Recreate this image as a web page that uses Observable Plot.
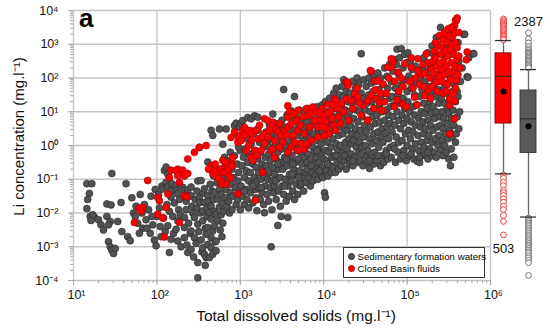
<!DOCTYPE html>
<html><head><meta charset="utf-8">
<script src="https://cdn.jsdelivr.net/npm/d3@7"></script>
<script src="https://cdn.jsdelivr.net/npm/@observablehq/plot@0.6"></script>
<style>
html,body{margin:0;padding:0;background:#fff;}
#chart{position:relative;width:550px;height:335px;overflow:hidden;font-family:"Liberation Sans",Arial,sans-serif;background:#fff;}
#chart svg{position:absolute;top:0;}
#panel{position:absolute;left:79px;top:5px;font-size:26px;font-weight:bold;line-height:1;color:#000;}
#legend{position:absolute;left:343px;top:247px;width:140px;height:29px;border:1px solid #333;background:#fff;font-size:9.7px;color:#000;}
#legend .it{position:absolute;left:4px;display:flex;align-items:center;white-space:nowrap;}
#legend .sw{display:inline-block;width:5px;height:5px;border-radius:50%;margin-right:2.5px;}
</style></head><body><div id="chart"></div>
<script>
// axis ticks and labels
const xTicks = [1e1, 1e2, 1e3, 1e4, 1e5, 1e6];
const xTickLabels = ["10¹", "10²", "10³", "10⁴", "10⁵", "10⁶"];
const yTicks = [1e-4, 1e-3, 1e-2, 1e-1, 1e0, 1e1, 1e2, 1e3, 1e4];
const yTickLabels = ["10⁻⁴", "10⁻³", "10⁻²", "10⁻¹", "10⁰", "10¹", "10²", "10³", "10⁴"];
const xTitle = "Total dissolved solids (mg.l⁻¹)";
const yTitle = "Li concentration (mg.l⁻¹)";
const seriesNames = ["Sedimentary formation waters", "Closed Basin fluids"];

// Sedimentary formation waters: [log10 TDS, log10 Li]
const sedimentary = [
[1.16,-1.13],[1.22,-1.13],[1.19,-1.42],[1.17,-1.6],[1.16,-1.87],[1.2,-2.1],[1.25,-2.12],[1.3,-2.2],[1.33,-2.35],[1.36,-2.5],[1.21,-2.22],[1.23,-2.05],[1.4,-1.73],[1.45,-1.76],[1.4,-2.1],[1.44,-2.25],[1.42,-2.35],[1.46,-0.83],[1.42,-2.85],[1.44,-3.0],[1.46,-3.1],[1.48,-3.2],[1.5,-3.05],[1.53,-2.25],[1.57,-1.69],[1.58,-2.55],[1.63,-1.13],[1.65,-2.7],[1.68,-2.82],[1.7,-1.55],[1.72,-2.0],[1.74,-2.1],[1.75,-1.8],[1.77,-2.3],[1.8,-1.45],[1.82,-2.0],[1.83,-2.45],[1.85,-1.75],[1.87,-2.2],[1.9,-1.9],[1.92,-2.6],[1.93,-1.5],[1.95,-2.35],[1.97,-2.8],[1.98,-1.3],[1.99,-2.97],[2.0,-2.1],[1.79,-2.6],[1.88,-2.45],[1.94,-2.1],
[2.02,-1.45],[2.03,-1.85],[2.04,-2.4],[2.05,-2.7],[2.06,-1.2],[2.07,-1.29],[2.09,-0.74],[2.11,-0.64],[2.11,-1.09],[2.08,-2.15],[2.1,-2.55],[2.12,-1.75],[2.13,-0.85],[2.13,-1.23],[2.13,-2.38],[2.15,-3.17],[2.15,-1.95],[2.17,-1.34],[2.17,-1.53],[2.17,-2.78],[2.18,-1.13],[2.19,-2.1],[2.2,-2.6],[2.21,-1.7],[2.23,-1.19],[2.23,-1.33],[2.23,-2.48],[2.25,-1.43],[2.25,-2.23],[2.25,-2.83],[2.26,-1.9],[2.28,-2.05],[2.29,-3.0],[2.27,-1.6],
[2.31,-1.24],[2.33,-1.33],[2.33,-2.13],[2.33,-2.43],[2.33,-2.73],[2.35,-1.65],[2.35,-1.9],[2.36,-2.95],[2.37,-1.32],[2.37,-3.17],[2.38,-2.3],[2.39,-1.5],[2.4,-2.6],[2.41,-1.23],[2.41,-1.49],[2.41,-2.53],[2.41,-3.08],[2.42,-1.8],[2.43,-2.0],[2.44,-3.3],[2.45,-2.13],[2.45,-2.73],[2.46,-1.6],[2.47,-2.9],[2.48,-1.35],[2.49,-1.05],[2.49,-2.33],[2.49,-3.47],[2.49,-3.92],[2.48,-1.85],[2.5,-2.55],
[2.51,-0.06],[2.51,-1.54],[2.51,-1.69],[2.52,-2.0],[2.53,-1.04],[2.53,-2.8],[2.54,-3.15],[2.55,-1.94],[2.55,-2.23],[2.55,-3.03],[2.56,-1.4],[2.57,-1.28],[2.57,-1.69],[2.57,-3.22],[2.58,-2.45],[2.59,-2.63],[2.59,-3.32],[2.6,-1.85],[2.6,-2.1],[2.58,-3.55],
[2.61,-0.49],[2.61,-1.49],[2.61,-2.43],[2.61,-2.93],[2.62,-1.65],[2.63,-1.99],[2.63,-3.32],[2.64,-1.15],[2.65,0.45],[2.65,-0.64],[2.65,-1.79],[2.65,-2.18],[2.65,-2.73],[2.65,-3.03],[2.66,-1.35],[2.67,0.3],[2.67,-2.53],[2.67,-3.22],[2.68,-1.6],[2.69,-1.39],[2.69,-2.38],[2.69,-1.95],[2.7,-2.85],[2.68,-0.9],
[2.71,-2.04],[2.71,-2.83],[2.71,-3.12],[2.72,-1.1],[2.73,-1.59],[2.73,-2.23],[2.74,-0.75],[2.75,0.49],[2.75,-1.82],[2.75,-1.3],[2.76,-2.5],[2.77,-1.45],[2.77,-2.05],[2.78,-0.95],[2.79,0.04],[2.79,-1.7],[2.79,-2.3],[2.8,-1.15],[2.8,-1.95],[2.78,-2.7],
[2.81,-0.35],[2.82,-1.55],[2.82,-0.6],[2.83,0.49],[2.83,-1.3],[2.84,-1.8],[2.85,-0.85],[2.85,-1.05],[2.86,-1.65],[2.87,-0.45],[2.87,-2.0],[2.88,-1.4],[2.88,-0.2],[2.89,-1.15],[2.9,-1.9],[2.9,-0.7],
[2.91,-1.5],[2.92,-0.95],[2.93,0.59],[2.93,-0.3],[2.94,-1.25],[2.95,0.66],[2.95,-1.75],[2.96,-0.55],[2.97,-1.05],[2.97,-1.6],[2.98,-0.8],[2.99,0.54],[2.99,-1.35],[3.0,-0.15],[3.0,-1.9],[2.98,-0.05],
[3.01,0.66],[3.01,-1.2],[3.02,-0.6],[3.03,0.74],[3.03,-1.5],[3.04,-0.35],[3.05,-0.95],[3.05,-1.75],[3.06,-0.1],[3.07,-1.3],[3.07,-0.75],[3.08,0.2],[3.08,-1.6],[3.09,0.83],[3.09,-0.5],[3.1,-1.05],[3.1,-1.85],
[3.11,-0.25],[3.12,-1.4],[3.12,-0.8],[3.13,0.79],[3.13,0.05],[3.14,-1.15],[3.15,-0.55],[3.15,-1.7],[3.16,0.35],[3.17,0.88],[3.17,-0.95],[3.18,-1.3],[3.18,-0.15],[3.19,-1.55],[3.19,-0.65],[3.2,-1.93],[3.2,-1.05],
[3.21,0.84],[3.21,0.45],[3.21,-0.4],[3.22,-1.25],[3.22,-0.8],[3.23,0.1],[3.24,-1.6],[3.24,-0.2],[3.25,-1.0],[3.26,-0.55],[3.26,-1.4],[3.27,0.25],[3.28,-0.05],[3.28,-1.75],[3.29,-1.99],[3.29,-0.9],[3.3,-1.2],[3.3,-0.35],[3.27,-0.7],
[3.31,0.4],[3.31,-0.6],[3.32,-1.45],[3.33,0.1],[3.33,-1.0],[3.34,-0.25],[3.34,-1.65],[3.35,0.6],[3.35,-0.8],[3.36,-1.25],[3.36,-0.45],[3.37,-3.0],[3.37,0.2],[3.38,-1.05],[3.38,-1.9],[3.39,0.93],[3.39,-0.1],[3.39,-0.65],[3.4,-1.4],[3.4,0.35],
[3.41,-0.85],[3.41,-1.2],[3.42,0.0],[3.42,0.65],[3.43,-0.4],[3.43,-1.6],[3.44,0.3],[3.44,-1.0],[3.45,-2.37],[3.45,-0.2],[3.46,-0.7],[3.46,-1.35],[3.47,0.5],[3.47,0.1],[3.48,-0.95],[3.48,-1.8],[3.49,-0.5],[3.49,-2.1],[3.5,0.75],[3.5,-0.1],[3.5,-1.2],
[3.51,-0.7],[3.52,1.66],[3.52,0.2],[3.52,-1.45],[3.53,-0.35],[3.53,0.55],[3.54,-1.0],[3.55,0.0],[3.55,-1.65],[3.56,-0.6],[3.56,0.9],[3.57,-2.13],[3.57,-1.2],[3.58,0.35],[3.58,-0.2],[3.59,-0.85],[3.59,-1.5],[3.6,0.6],[3.6,-0.45],[3.6,0.1],
[3.61,1.03],[3.61,-1.05],[3.62,-0.3],[3.62,0.25],[3.63,-1.35],[3.63,0.75],[3.64,-0.7],[3.64,0.0],[3.65,1.45],[3.65,-1.6],[3.65,0.45],[3.66,-0.5],[3.67,-1.15],[3.67,0.85],[3.68,-0.15],[3.68,-0.9],[3.69,0.3],[3.69,-1.45],[3.7,0.6],[3.7,-0.4],[3.7,0.05],
[3.71,-0.75],[3.71,1.05],[3.72,-1.2],[3.72,0.4],[3.73,-0.2],[3.73,-1.13],[3.74,0.75],[3.74,-0.55],[3.75,0.15],[3.75,-0.95],[3.76,-1.35],[3.76,0.55],[3.77,-0.35],[3.77,0.95],[3.78,-0.05],[3.78,-0.8],[3.79,0.3],[3.79,-1.1],[3.8,0.7],[3.8,-0.5],
[3.81,-0.25],[3.81,1.1],[3.82,0.1],[3.82,-0.95],[3.83,0.45],[3.83,-0.65],[3.84,-1.2],[3.84,0.85],[3.85,-0.4],[3.85,0.25],[3.86,-0.8],[3.86,0.6],[3.87,-0.05],[3.87,-1.05],[3.88,1.0],[3.88,0.35],[3.89,-0.55],[3.89,-0.2],[3.9,0.75],[3.9,-0.9],
[3.91,0.15],[3.91,-0.35],[3.92,1.15],[3.92,-0.7],[3.93,0.5],[3.93,-1.0],[3.94,-0.1],[3.94,0.9],[3.95,-0.5],[3.95,0.3],[3.96,-0.85],[3.96,0.65],[3.97,0.05],[3.97,-0.25],[3.98,1.2],[3.98,-0.65],[3.99,0.4],[3.99,-0.95],[4.0,0.8],[4.0,-0.4],
[4.01,-1.4],[4.02,-1.53],[4.01,0.2],[4.02,1.3],[4.02,-0.15],[4.03,0.55],[4.03,-0.75],[4.04,1.0],[4.04,-0.45],[4.05,0.1],[4.05,-0.9],[4.06,0.75],[4.06,-0.2],[4.07,1.4],[4.07,0.35],[4.08,-0.6],[4.08,0.95],[4.09,-0.05],[4.09,-0.8],[4.1,0.6],[4.1,1.2],[4.1,-0.35],
[4.11,0.2],[4.11,-0.65],[4.12,1.55],[4.12,0.85],[4.13,-0.3],[4.13,0.45],[4.14,1.1],[4.14,-0.8],[4.15,0.05],[4.15,1.7],[4.16,-0.5],[4.16,0.7],[4.17,1.35],[4.17,-0.15],[4.18,0.3],[4.18,-0.7],[4.19,0.95],[4.19,1.5],[4.2,-0.4],[4.2,0.55],[4.2,0.0],
[4.21,1.2],[4.21,-0.6],[4.22,0.8],[4.22,1.75],[4.23,-0.2],[4.23,0.35],[4.24,1.95],[4.24,1.45],[4.25,-0.45],[4.25,0.6],[4.26,0.1],[4.26,1.05],[4.27,-0.7],[4.27,1.6],[4.28,0.45],[4.28,-0.1],[4.29,0.85],[4.29,1.3],[4.3,-0.35],[4.3,0.2],[4.3,1.85],
[4.31,1.0],[4.31,-0.55],[4.32,0.6],[4.32,1.55],[4.33,0.05],[4.33,-0.25],[4.34,1.25],[4.34,0.35],[4.35,1.9],[4.35,-0.6],[4.36,0.8],[4.36,0.15],[4.37,1.45],[4.37,-0.35],[4.38,0.5],[4.38,1.7],[4.39,1.05],[4.39,-0.05],[4.4,0.3],[4.4,-0.5],[4.4,2.0],
[4.41,1.3],[4.41,0.7],[4.42,-0.2],[4.42,1.8],[4.43,0.1],[4.43,1.0],[4.44,-0.45],[4.44,0.45],[4.45,2.72],[4.45,1.55],[4.46,-0.05],[4.46,0.85],[4.47,1.2],[4.47,-0.6],[4.48,0.25],[4.48,1.95],[4.49,0.6],[4.49,1.4],[4.5,-0.3],[4.5,1.05],[4.5,0.0],
[4.51,1.75],[4.51,0.4],[4.52,-0.5],[4.52,1.25],[4.53,0.75],[4.53,-0.15],[4.54,2.0],[4.54,1.5],[4.55,-0.68],[4.55,0.2],[4.56,1.0],[4.56,0.55],[4.57,1.85],[4.57,-0.35],[4.58,1.3],[4.58,0.05],[4.59,0.85],[4.59,1.6],[4.6,-0.55],[4.6,0.35],[4.6,2.1],
[4.61,1.1],[4.61,-0.2],[4.62,0.65],[4.62,1.9],[4.63,0.15],[4.63,1.4],[4.64,-0.45],[4.64,0.9],[4.65,2.15],[4.65,0.4],[4.66,1.65],[4.66,-0.05],[4.67,1.2],[4.67,0.7],[4.68,-0.6],[4.68,2.0],[4.69,0.25],[4.69,1.5],[4.7,1.0],[4.7,-0.3],[4.7,0.5],
[4.71,1.8],[4.71,0.1],[4.72,1.3],[4.72,-0.5],[4.73,0.75],[4.73,2.3],[4.74,0.35],[4.74,1.55],[4.75,-0.15],[4.75,1.05],[4.76,2.05],[4.76,0.55],[4.77,-0.4],[4.77,1.7],[4.78,0.9],[4.78,0.2],[4.79,1.4],[4.79,2.4],[4.8,-0.05],[4.8,0.65],[4.8,1.15],
[4.81,1.9],[4.81,-0.35],[4.82,0.4],[4.82,1.45],[4.83,2.2],[4.83,0.85],[4.84,0.0],[4.84,1.2],[4.85,2.55],[4.85,0.6],[4.86,-0.5],[4.86,1.7],[4.87,2.4],[4.87,0.25],[4.88,1.0],[4.88,2.85],[4.89,-0.2],[4.89,1.5],[4.9,0.75],[4.9,2.1],[4.9,0.1],
[4.91,1.25],[4.91,2.6],[4.92,-0.4],[4.92,0.5],[4.93,2.87],[4.93,1.8],[4.94,0.9],[4.94,0.15],[4.95,2.3],[4.95,1.4],[4.96,-0.15],[4.96,0.65],[4.97,2.7],[4.97,1.1],[4.98,0.35],[4.98,1.95],[4.99,-0.45],[4.99,2.45],[5.0,0.8],[5.0,1.6],[5.0,0.0],
[5.01,2.75],[5.01,1.3],[5.02,0.45],[5.02,2.05],[5.03,-0.3],[5.03,1.0],[5.04,2.5],[5.04,0.2],[5.05,1.7],[5.05,0.7],[5.06,-0.1],[5.06,2.25],[5.07,1.15],[5.07,0.4],[5.08,1.9],[5.08,-0.4],[5.09,0.9],[5.09,1.5],[5.1,0.05],[5.1,2.35],[5.1,0.6],
[5.11,1.2],[5.12,-0.47],[5.12,1.85],[5.13,0.3],[5.13,2.2],[5.14,0.8],[5.14,-0.15],[5.15,1.45],[5.15,-0.5],[5.16,0.55],[5.16,2.0],[5.17,1.0],[5.17,0.1],[5.18,1.65],[5.18,-0.3],[5.19,0.7],[5.19,2.3],[5.2,1.25],[5.2,0.35],[5.2,-0.05],
[5.21,1.9],[5.21,0.95],[5.22,-0.25],[5.22,0.5],[5.23,1.5],[5.23,2.15],[5.24,0.15],[5.24,1.1],[5.25,-0.4],[5.25,0.75],[5.26,1.75],[5.26,0.3],[5.27,1.3],[5.27,-0.1],[5.28,2.3],[5.28,0.6],[5.29,0.95],[5.29,1.6],[5.3,-0.3],[5.3,0.1],[5.3,2.0],
[5.31,1.15],[5.31,0.45],[5.32,1.8],[5.32,-0.2],[5.33,0.8],[5.33,2.4],[5.34,0.2],[5.34,1.45],[5.35,-0.35],[5.35,1.0],[5.36,0.55],[5.36,2.1],[5.37,1.65],[5.37,0.0],[5.38,1.25],[5.38,0.3],[5.39,0.85],[5.39,1.9],[5.4,-0.15],[5.4,0.6],
[5.41,1.4],[5.41,2.2],[5.42,0.15],[5.42,1.0],[5.43,-0.3],[5.43,0.5],[5.44,1.7],[5.44,0.8],[5.45,0.0],[5.45,1.25],[5.46,2.3],[5.46,0.35],[5.47,1.55],[5.47,-0.2],[5.48,0.65],[5.48,1.1],[5.49,1.85],[5.49,0.2],[5.5,0.95],[5.5,-0.4],
[5.51,1.35],[5.51,0.45],[5.52,-0.6],[5.52,2.0],[5.53,0.8],[5.53,-0.1],[5.54,1.6],[5.54,0.25],[5.55,1.05],[5.56,-0.35],[5.56,0.6],[5.57,1.8],[5.58,0.1],[5.58,1.3],[5.59,0.35],[5.59,2.2],[5.6,1.6],[5.6,0.85],
[5.61,3.05],[5.61,1.45],[5.62,0.5],[5.62,2.5],[5.63,1.0],[5.64,1.9],[5.66,2.3],[5.68,3.29],[5.69,3.3],[5.72,2.04],[5.73,2.02],[5.74,2.6],[5.79,2.72],[5.8,2.72],
[5.4,3.5],[5.35,3.2],[5.44,2.9],[5.25,2.75],[5.5,3.1],[5.55,2.75],[5.3,2.95],[5.2,2.6],[5.32,2.7],[5.45,2.65],
[3.35,-0.05],[3.45,-0.55],[3.55,-0.4],[3.62,-0.85],[3.7,-0.95],[3.8,-0.7],[3.92,-0.15],[3.25,-1.25],[3.15,-1.2],[3.05,-1.35],[3.42,-1.05],[3.53,-1.2],[3.63,-0.55],[3.85,-0.6],[3.95,-0.75],[4.05,-0.55],[4.15,-0.3],[4.25,-0.3],[4.35,-0.45],[4.45,-0.25],[4.55,-0.45],[4.65,-0.3],[4.75,-0.25],[4.85,-0.1],[4.95,-0.3],[5.05,-0.25],[5.15,-0.35],[5.25,-0.2]
];

// Closed Basin fluids: [log10 TDS, log10 Li]
const closedBasin = [
[1.89,-1.04],[2.13,-1.44],[2.01,-1.54],[2.03,-1.64],[2.11,-1.84],[1.79,-1.86],[1.83,-1.84],[1.81,-1.94],[1.73,-2.28],[2.01,-2.04],[2.07,-2.15],[2.09,-2.71],[2.27,-2.28],[2.33,-1.49],[2.36,-1.52],[2.37,-0.4],[2.45,-0.2],[2.59,0.0],[2.51,-0.05],[2.25,-0.7],[2.17,-0.73],[2.31,-0.73],[2.33,-0.9],[2.37,-0.83],[2.27,-1.09],[2.15,-0.95],[2.23,-0.74],[2.25,-0.89],[2.35,-0.84],
[2.65,-0.59],[2.69,-0.64],[2.73,-0.74],[2.77,-0.69],[2.83,-0.64],[2.89,-0.49],[2.79,-0.44],[2.75,-0.84],[2.67,-0.84],[2.71,-0.89],[2.85,-0.84],[2.91,-0.35],[2.77,-1.14],[2.83,-1.14],[2.97,-1.43],[2.77,-1.05],[2.7,-0.55],[2.8,-0.8],[2.86,-0.7],[2.74,-0.98],[2.68,-0.74],[2.9,-0.6],[2.62,-0.7],[2.88,-0.95],[2.82,-0.5],[2.89,0.24],[2.97,0.29],[2.97,0.1],[2.93,0.4],
[3.03,0.44],[3.13,0.44],[3.21,0.49],[3.29,0.34],[3.05,0.54],[3.09,0.45],[3.13,0.35],[3.19,0.45],[3.13,0.15],[3.01,0.15],[3.07,-0.15],[3.17,-0.15],[3.13,-0.35],[3.21,0.2],[3.29,0.05],[3.25,-0.15],[3.15,-0.44],[3.18,-1.62],[3.27,-0.79],[3.05,0.3],[3.23,0.6],[3.1,0.0],[3.26,0.25],[3.2,-0.3],
[3.29,0.79],[3.33,0.74],[3.39,0.69],[3.37,0.59],[3.43,0.49],[3.45,0.4],[3.53,0.45],[3.49,0.3],[3.57,0.54],[3.61,0.64],[3.67,0.74],[3.57,0.84],[3.69,1.04],[3.79,1.09],[3.87,1.14],[3.81,0.89],[3.89,0.74],[3.93,0.54],[3.69,0.45],[3.73,0.05],[3.61,-0.05],[3.69,-0.15],[3.77,-0.1],[3.57,-0.2],[3.85,0.15],[3.93,0.25],[3.33,0.25],[3.37,-0.15],[3.41,-0.35],[3.39,-0.1],[3.57,1.18],[3.59,1.0],[3.35,0.45],[3.41,0.15],[3.47,0.65],[3.51,0.1],[3.55,0.3],[3.63,0.3],[3.65,0.95],[3.72,0.6],[3.75,0.85],[3.77,0.35],[3.83,0.55],[3.85,0.95],[3.91,1.0],[3.47,-0.05],[3.65,0.1],[3.8,0.05],
[4.13,1.38],[4.27,1.88],[4.29,1.78],[4.05,1.23],[4.15,1.33],[4.21,1.23],[4.27,1.38],[4.33,1.33],[4.37,1.53],[4.41,1.43],[4.47,1.19],[3.98,1.1],[4.0,0.9],[4.02,0.7],[4.04,0.5],[4.06,0.35],[4.08,1.0],[4.1,0.8],[4.12,0.6],[4.14,0.45],[4.16,1.1],[4.18,0.85],[4.2,0.65],[4.01,0.3],[4.05,0.95],[4.11,1.2],[3.96,0.75],[3.95,0.95],[3.99,0.55],[4.29,1.87],[4.24,1.0],[4.35,1.1],[4.4,1.7],[4.45,0.9],[4.3,0.75],[4.43,1.25],
[4.53,1.33],[4.57,1.48],[4.63,1.38],[4.67,1.28],[4.71,1.04],[4.53,0.74],[4.69,1.04],[4.57,2.2],[4.56,2.22],[4.83,2.47],[4.81,2.32],[4.81,2.57],[4.77,2.32],[4.89,2.17],[4.97,2.42],[4.61,1.92],[4.65,1.92],[4.71,1.82],[4.95,1.23],[4.99,1.14],[4.62,1.65],[4.75,1.55],[4.85,1.9],[4.9,1.6],[4.93,2.0],[4.78,2.0],[4.68,1.55],[4.88,1.35],[4.6,1.1],[4.73,1.3],[4.95,1.75],[4.85,1.15],
[5.09,1.43],[5.21,1.48],[5.25,1.63],[5.17,2.12],[5.29,2.27],[5.13,2.57],[5.23,2.72],[5.05,2.32],[5.13,2.22],[5.21,2.14],[5.03,1.9],[5.07,1.7],[5.1,2.0],[5.15,1.8],[5.19,2.4],[5.27,2.0],[5.25,2.45],[5.2,1.75],[5.05,2.6],[5.12,1.2],[5.28,1.4],
[5.35,1.88],[5.59,1.93],[5.57,1.33],[5.51,1.38],[5.51,1.19],[5.57,0.79],[5.51,0.35],[5.33,2.81],[5.41,2.91],[5.59,3.7],[5.57,3.56],[5.56,3.41],[5.55,3.26],[5.53,3.11],[5.51,3.01],[5.47,3.06],[5.39,3.26],[5.72,2.77],[5.71,2.54],[5.58,3.71],[5.6,3.78],
[5.31,2.5],[5.32,2.15],[5.34,2.6],[5.36,2.35],[5.37,3.0],[5.38,2.05],[5.4,2.7],[5.41,2.25],[5.42,1.9],[5.43,3.15],[5.44,2.5],[5.45,2.1],[5.46,2.8],[5.47,2.35],[5.48,1.8],[5.49,2.65],[5.5,3.25],[5.5,2.2],[5.52,2.85],[5.52,1.95],[5.53,2.45],[5.54,3.0],[5.55,2.15],[5.56,2.7],[5.57,2.35],[5.58,3.05],[5.58,1.7],[5.6,2.55],[5.6,2.9],[5.61,2.1],[5.62,3.35],[5.62,2.65],[5.63,2.3],[5.45,3.35],[5.49,3.45],[5.53,3.5],[5.36,1.6],[5.43,1.55],[5.39,2.45],[5.34,3.05],[5.47,1.6],[5.55,1.55],[5.3,1.75]
];

// Box plot summaries of log10 Li (Closed Basin, Sedimentary)
const boxGroups = ["Closed Basin fluids", "Sedimentary formation waters"];
const boxCounts = [503, 2387];
const boxWhiskerLow = [-0.84, -2.12];
const boxQ1 = [0.65, -0.22];
const boxMedian = [2.05, 0.79];
const boxMean = [1.6, 0.57];
const boxQ3 = [2.73, 1.63];
const boxWhiskerHigh = [3.11, 2.25];
const closedOutliers = [3.75,3.7,3.67,3.62,3.6,3.56,3.53,3.49,3.46,3.42,3.38,3.34,3.31,3.27,3.24,3.2,3.16,3.13,
  -0.87,-0.97,-1.09,-1.19,-1.33,-1.4,-1.48,-1.58,-1.68,-1.8,-1.9,-2.07,-2.25,-2.65];
const sedOutliers = [3.34,3.16,3.04,2.94,2.87,2.82,2.77,2.73,2.7,2.66,2.62,2.58,2.54,2.5,2.46,2.42,2.38,2.34,2.3,
  -2.15,-2.2,-2.25,-2.3,-2.35,-2.4,-2.45,-2.5,-2.55,-2.6,-2.65,-2.7,-2.75,-2.8,-2.85,-2.9,-2.95,-3.0,-3.05,-3.1,-3.15,-3.2,-3.27,-3.33,-3.4,-3.47,-3.85];

// ---- build ----
const red = "#ff0000", grey = "#525252";
const pts = (arr) => arr.map(([a, b]) => ({tds: 10 ** a, li: 10 ** b}));
const sedPts = pts(sedimentary), closedPts = pts(closedBasin);
const boxes = boxGroups.map((g, i) => ({
  group: g, n: boxCounts[i], lo: 10 ** boxWhiskerLow[i], q1: 10 ** boxQ1[i], med: 10 ** boxMedian[i],
  mean: 10 ** boxMean[i], q3: 10 ** boxQ3[i], hi: 10 ** boxWhiskerHigh[i], fill: i === 0 ? red : "#5a5a5a",
  stroke: i === 0 ? "#7a0000" : "#333333"
}));
const outliers = [
  ...closedOutliers.map(v => ({group: boxGroups[0], li: 10 ** v, c: "#e8403a"})),
  ...sedOutliers.map(v => ({group: boxGroups[1], li: 10 ** v, c: "#707070"}))
];
const xLab = new Map(xTicks.map((t, i) => [t, xTickLabels[i]]));
const yLab = new Map(yTicks.map((t, i) => [t, yTickLabels[i]]));

const main = Plot.plot({
  width: 550, height: 335, marginLeft: 73, marginRight: 60, marginTop: 10, marginBottom: 55,
  style: {fontFamily: "Liberation Sans, Arial, sans-serif", background: "white", color: "#000"},
  x: {type: "log", domain: [1e1, 1e6]},
  y: {type: "log", domain: [1e-4, 1e4]},
  marks: [
    Plot.gridX(xTicks, {stroke: "#c4c4c4", strokeOpacity: 1, strokeWidth: 1.3}),
    Plot.gridY(yTicks, {stroke: "#c4c4c4", strokeOpacity: 1, strokeWidth: 1.3}),
    Plot.axisX({ticks: 40, tickSize: 3, tickFormat: () => "", stroke: "#a8a8a8", label: null}),
    Plot.axisY({ticks: 40, tickSize: 3, tickFormat: () => "", stroke: "#a8a8a8", label: null}),
    Plot.axisX(xTicks, {tickSize: 5, tickFormat: () => "", stroke: "#a8a8a8", label: null}),
    Plot.axisY(yTicks, {tickSize: 5, tickFormat: () => "", stroke: "#a8a8a8", label: null}),
    Plot.axisX(xTicks, {tickSize: 0, tickPadding: 10, dx: 3, tickFormat: d => xLab.get(d), fontSize: 12.5, fill: "#111", label: null}),
    Plot.axisY(yTicks, {tickSize: 0, tickPadding: 15, tickFormat: d => yLab.get(d), fontSize: 12.5, fill: "#111", label: null}),
    Plot.dot(sedPts, {x: "tds", y: "li", r: 3.5, fill: grey, stroke: "#262626", strokeWidth: 0.6}),
    Plot.dot(closedPts, {x: "tds", y: "li", r: 3.5, fill: red, stroke: "#a00000", strokeWidth: 0.6}),
    Plot.text([xTitle], {frameAnchor: "bottom", dy: 40, dx: 14, fontSize: 15.5, fill: "#111", text: d => d}),
    Plot.text([yTitle], {frameAnchor: "left", textAnchor: "middle", rotate: -90, dx: -54, dy: -9, fontSize: 15, fill: "#111", text: d => d})
  ]
});

const box = Plot.plot({
  width: 62, height: 335, marginLeft: 0, marginRight: 0, marginTop: 10, marginBottom: 55,
  style: {fontFamily: "Liberation Sans, Arial, sans-serif", background: "transparent", overflow: "visible"},
  x: {type: "band", domain: boxGroups, range: [7, 48.2], paddingInner: 0.37, paddingOuter: 0, axis: null},
  y: {type: "log", domain: [1e-4, 1e4], axis: null},
  marks: [
    Plot.ruleX(boxes, {x: "group", y1: "lo", y2: "hi", stroke: "#666", strokeWidth: 1.3}),
    Plot.dot(outliers, {x: "group", y: "li", r: 2.9, stroke: "c", fill: "white", strokeWidth: 1}),
    Plot.tickY(boxes, {x: "group", y: "lo", stroke: "#333", strokeWidth: 1.3}),
    Plot.tickY(boxes, {x: "group", y: "hi", stroke: "#333", strokeWidth: 1.3}),
    Plot.barY(boxes, {x: "group", y1: "q1", y2: "q3", fill: "fill", stroke: "stroke", strokeWidth: 0.9}),
    Plot.tickY(boxes, {x: "group", y: "med", stroke: "#222", strokeWidth: 1}),
    Plot.dot(boxes, {x: "group", y: "mean", r: 3, fill: "#000"}),
    Plot.text([boxes[0]], {x: "group", y: d => 10 ** Math.min(...closedOutliers), text: d => String(d.n), dy: 14, fontSize: 13, fill: "#111"}),
    Plot.text([boxes[1]], {x: "group", y: d => 10 ** Math.max(...sedOutliers), text: d => String(d.n), dy: -11, fontSize: 13, fill: "#111"})
  ]
});

const chart = document.getElementById("chart");
main.style.left = "0px";
box.style.left = "488px";
chart.appendChild(main);
chart.appendChild(box);

const panel = document.createElement("div");
panel.id = "panel"; panel.textContent = "a";
chart.appendChild(panel);

const legend = document.createElement("div");
legend.id = "legend";
[[seriesNames[0], grey, "#262626", 3], [seriesNames[1], red, "#a00000", 15]].forEach(([name, f, s, top]) => {
  const it = document.createElement("div");
  it.className = "it"; it.style.top = top + "px";
  const sw = document.createElement("span");
  sw.className = "sw"; sw.style.background = f; sw.style.border = "0.5px solid " + s;
  it.appendChild(sw);
  it.appendChild(document.createTextNode(name));
  legend.appendChild(it);
});
chart.appendChild(legend);
</script></body></html>
